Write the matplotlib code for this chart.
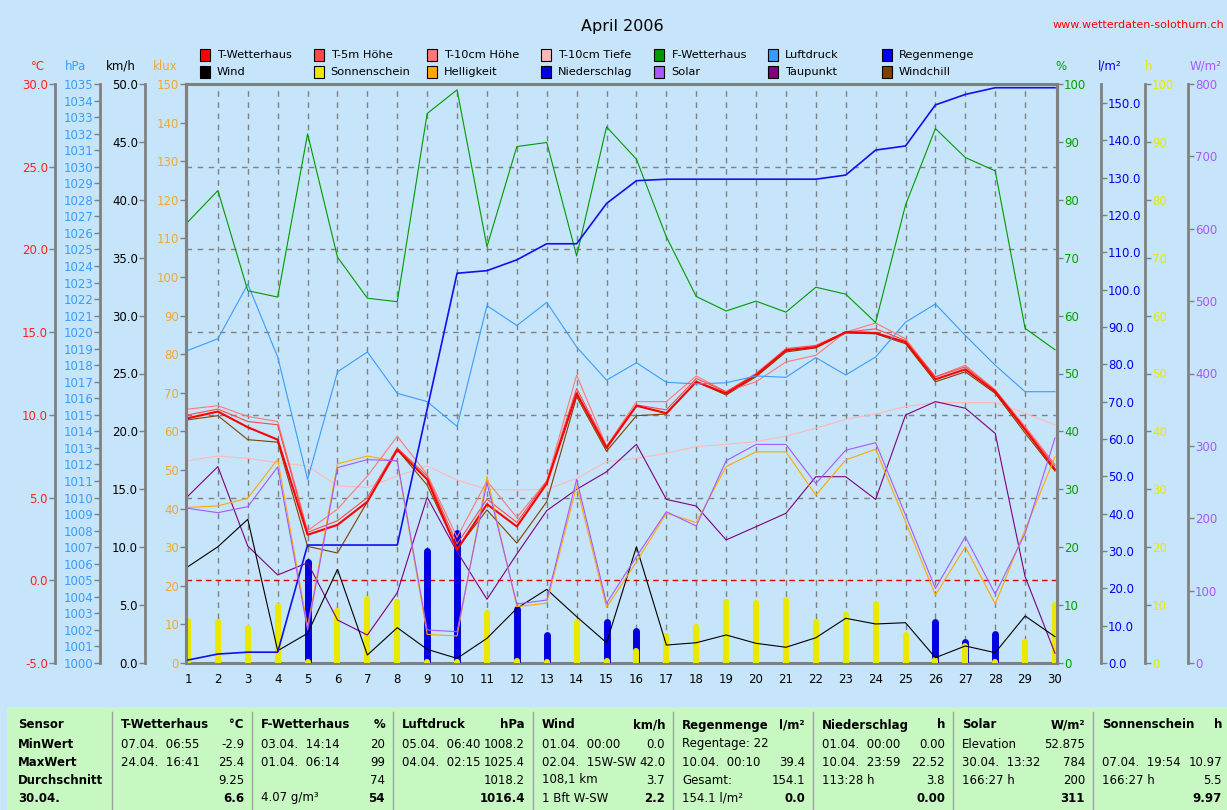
import matplotlib
matplotlib.use("Agg")
import matplotlib.pyplot as plt
from matplotlib.patches import Rectangle
from matplotlib.lines import Line2D
from matplotlib.ticker import MultipleLocator, FormatStrFormatter

plt.rcParams['font.family'] = ['DejaVu Sans']

# ---------------- data ----------------
days = list(range(1, 31))

t_wetterhaus = [9.8, 10.2, 9.25, 8.5, 2.75, 3.35, 4.75, 7.9, 6.1, 1.85,
                4.6, 3.25, 5.85, 11.3, 8.0, 10.55, 10.1, 12.0, 11.3, 12.4,
                13.9, 14.1, 15.0, 14.95, 14.4, 12.15, 12.75, 11.4, 9.1, 6.7]
t_5m = [10.0, 10.35, 9.6, 9.4, 2.9, 3.6, 5.0, 8.0, 6.3, 2.2,
        4.9, 3.5, 6.0, 11.6, 8.1, 10.6, 10.3, 12.2, 11.4, 12.5,
        14.0, 14.2, 15.0, 15.2, 14.5, 12.3, 12.9, 11.5, 9.2, 6.9]
t_10cm_hoehe = [10.35, 10.55, 9.9, 9.6, 3.0, 4.3, 6.3, 8.7, 6.4, 2.6,
                6.0, 3.8, 6.0, 12.4, 8.1, 10.8, 10.8, 12.35, 11.4, 12.0,
                13.2, 13.6, 15.0, 15.55, 14.6, 12.3, 13.0, 11.5, 9.3, 7.0]
t_10cm_tiefe = [7.23, 7.51, 7.37, 7.11, 6.91, 5.70, 5.62, 6.30, 6.91, 6.06,
                5.50, 5.46, 5.50, 6.16, 7.17, 7.37, 7.68, 8.08, 8.22, 8.38,
                8.72, 9.19, 9.73, 10.05, 10.50, 10.74, 10.74, 10.74, 10.09, 9.39]
windchill = [9.7, 9.95, 8.5, 8.35, 2.05, 1.65, 4.75, 7.9, 5.75, 1.9,
             4.25, 2.25, 4.75, 11.1, 7.8, 9.95, 10.05, 12.0, 11.2, 12.3,
             13.8, 14.05, 14.95, 14.9, 14.3, 12.0, 12.6, 11.3, 8.9, 6.6]
taupunkt = [5.09, 6.87, 2.07, 0.32, 1.06, -2.4, -3.31, -0.75, 5.02, 1.73,
            -1.15, 1.59, 4.21, 5.50, 6.56, 8.22, 4.89, 4.49, 2.44, 3.24,
            4.05, 6.26, 6.26, 4.89, 9.99, 10.8, 10.40, 8.88, 0.22, -4.41]
f_wetterhaus = [76.2, 81.6, 64.3, 63.2, 91.4, 70.1, 63.0, 62.4, 94.9, 99.0,
                71.9, 89.2, 89.9, 70.3, 92.6, 87.0, 73.6, 63.3, 60.8, 62.5,
                60.6, 64.9, 63.7, 58.8, 79.1, 92.3, 87.3, 85.0, 57.8, 54.1]
luftdruck = [1018.9, 1019.6, 1022.9, 1018.5, 1011.1, 1017.6, 1018.8, 1016.3, 1015.8, 1014.3,
             1021.6, 1020.4, 1021.8, 1019.1, 1017.1, 1018.15, 1016.97, 1016.87, 1016.94, 1017.35,
             1017.27, 1018.46, 1017.41, 1018.5, 1020.6, 1021.7, 1019.8, 1018.0, 1016.4, 1016.4]
regenmenge = [0.8, 2.4, 2.9, 2.9, 31.6, 31.6, 31.6, 31.6, 68.0, 104.4,
              105.1, 108.0, 112.3, 112.3, 123.1, 129.2, 129.6, 129.6, 129.6, 129.6,
              129.6, 129.6, 130.7, 137.4, 138.5, 149.5, 152.3, 154.1, 154.1, 154.1]
wind = [8.32, 10.04, 12.41, 1.06, 2.56, 8.09, 0.69, 3.05, 1.18, 0.40,
        2.13, 4.72, 6.36, 4.0, 1.75, 10.04, 1.55, 1.75, 2.42, 1.70,
        1.36, 2.18, 3.86, 3.37, 3.48, 0.46, 1.47, 0.89, 4.06, 2.27]
helligkeit = [40.3, 40.7, 42.7, 52.8, 9.4, 51.6, 53.6, 52.2, 7.4, 7.0,
              48.3, 14.6, 15.5, 45.9, 14.4, 26.2, 38.8, 36.4, 50.9, 54.7,
              54.7, 43.5, 52.6, 55.4, 36.6, 17.6, 30.1, 15.3, 34.5, 53.4]
solar = [213.7, 207.7, 216.0, 271.0, 45.6, 270.0, 281.0, 279.5, 45.6, 43.3,
         249.0, 81.5, 87.0, 253.8, 82.5, 146.9, 209.0, 189.3, 279.5, 302.0,
         302.0, 248.0, 294.0, 304.4, 204.5, 103.0, 174.5, 95.3, 179.0, 311.0]
niederschlag = [0, 0, 0, 0, 17.5, 0, 0, 0, 19.4, 22.5,
                0, 9.3, 4.8, 0, 7.0, 5.6, 0, 0, 0, 0,
                0, 0, 0, 0, 0, 7.0, 3.7, 5.0, 0, 0]
sonnenschein = [7.3, 7.0, 6.1, 9.9, 0.2, 9.0, 10.97, 10.5, 0.2, 0.2,
                8.6, 0.3, 0.1, 7.0, 0.3, 2.1, 4.7, 6.3, 10.6, 10.4,
                10.9, 7.0, 8.3, 10.2, 4.8, 0.5, 2.9, 0.1, 3.7, 9.97]

legend_row1 = [("T-Wetterhaus", '#FF0000'), ("T-5m Höhe", '#FF4848'),
               ("T-10cm Höhe", '#FF7878'), ("T-10cm Tiefe", '#FFB8B8'),
               ("F-Wetterhaus", '#009A00'), ("Luftdruck", '#3C9BFF'),
               ("Regenmenge", '#0000F0')]
legend_row2 = [("Wind", '#000000'), ("Sonnenschein", '#E8E800'),
               ("Helligkeit", '#FFA800'), ("Niederschlag", '#0000E0'),
               ("Solar", '#A858FF'), ("Taupunkt", '#800080'),
               ("Windchill", '#804000')]

table_headers = [("Sensor", ""), ("T-Wetterhaus", "°C"), ("F-Wetterhaus", "%"),
                 ("Luftdruck", "hPa"), ("Wind", "km/h"), ("Regenmenge", "l/m²"),
                 ("Niederschlag", "h"), ("Solar", "W/m²"), ("Sonnenschein", "h")]
row_names = ["MinWert", "MaxWert", "Durchschnitt", "30.04."]
table_cells = [
    [("07.04.  06:55", "-2.9"), ("24.04.  16:41", "25.4"), ("", "9.25"), ("", "6.6")],
    [("03.04.  14:14", "20"), ("01.04.  06:14", "99"), ("", "74"), ("4.07 g/m³", "54")],
    [("05.04.  06:40", "1008.2"), ("04.04.  02:15", "1025.4"), ("", "1018.2"), ("", "1016.4")],
    [("01.04.  00:00", "0.0"), ("02.04.  15W-SW", "42.0"), ("108,1 km", "3.7"), ("1 Bft W-SW", "2.2")],
    [("Regentage: 22", ""), ("10.04.  00:10", "39.4"), ("Gesamt:", "154.1"), ("154.1 l/m²", "0.0")],
    [("01.04.  00:00", "0.00"), ("10.04.  23:59", "22.52"), ("113:28 h", "3.8"), ("", "0.00")],
    [("Elevation", "52.875"), ("30.04.  13:32", "784"), ("166:27 h", "200"), ("", "311")],
    [("", ""), ("07.04.  19:54", "10.97"), ("166:27 h", "5.5"), ("", "9.97")],
]

# ---------------- figure ----------------
W, H = 1227, 810
fig = plt.figure(figsize=(W / 100, H / 100), dpi=100)
fig.patch.set_facecolor('#C6E5FA')

def fx(px):
    return px / W

def fy(py):
    return 1 - py / H

GRAY = '#808080'
L, R, TOP, BOT = 186, 1057, 84, 663
ax = fig.add_axes([fx(L), fy(BOT), (R - L) / W, (BOT - TOP) / H])
ax.set_facecolor('none')
ax.set_zorder(-2)
ax.set_xlim(1 - 2 / 29.9, 30 + 2 / 29.9)
ax.set_ylim(-5, 30)
for s in ax.spines.values():
    s.set_color(GRAY)
    s.set_linewidth(2.2)
ax.set_xticks(days)
ax.set_xticklabels([str(d) for d in days])
ax.tick_params(axis='x', length=0, pad=7, labelsize=8.5, labelcolor='black')
ax.set_yticks([])
for d in days[1:-1]:
    ax.axvline(d, color=GRAY, lw=1, linestyle=(0, (4, 4)))
for v in [5, 10, 15, 20, 25]:
    ax.axhline(v, color=GRAY, lw=1, linestyle=(0, (4, 4)))
ax.axhline(0, color='#E00000', lw=1, linestyle=(0, (4, 3)))


def make_axis(side, offset_px, lo, hi, major, fmt, color, z=0):
    a = ax.twinx()
    a.set_ylim(lo, hi)
    a.set_xlim(ax.get_xlim())
    a.set_facecolor('none')
    a.patch.set_visible(False)
    a.set_zorder(z)
    for s in a.spines.values():
        s.set_visible(False)
    sp = a.spines[side]
    sp.set_visible(True)
    sp.set_position(('outward', offset_px * 0.72))
    sp.set_color(GRAY)
    sp.set_linewidth(2.0 if offset_px else 2.2)
    a.yaxis.set_ticks_position(side)
    a.yaxis.set_major_locator(MultipleLocator(major))
    a.yaxis.set_major_formatter(FormatStrFormatter(fmt))
    a.tick_params(axis='y', colors=GRAY, labelcolor=color, length=4, width=1,
                  labelsize=8.5, pad=1)
    return a

ax_h = make_axis('right', 88, 0, 100, 10, '%d', '#E8E800', z=-1)
ax_c = make_axis('left', 131, -5, 30, 5, '%.1f', '#FF2020')
ax_p = make_axis('left', 86, 1000, 1035, 1, '%d', '#3C9BFF')
ax_w = make_axis('left', 41, 0, 50, 5, '%.1f', '#000000')
ax_k = make_axis('left', 0, 0, 150, 10, '%d', '#F0A830')
ax_f = make_axis('right', 0, 0, 100, 10, '%d', '#00A000')
ax_r = make_axis('right', 44, 0, 155.1, 10, '%.1f', '#0000F0')
ax_s = make_axis('right', 131, 0, 800, 100, '%d', '#A858FF')
ax_s.set_ylim(0, 800)

# bars (h axis)
ax_h.vlines(days, 0, niederschlag, colors='#0000E0', linewidth=5.0, capstyle='round')
ax_h.vlines(days, 0, sonnenschein, colors='#E8E800', linewidth=4.4, capstyle='round')

lw = 0.8
ax_f.plot(days, f_wetterhaus, color='#009A00', lw=lw)
ax_p.plot(days, luftdruck, color='#3C9BFF', lw=lw)
ax_r.plot(days, regenmenge, color='#1010F0', lw=1.2)
ax_w.plot(days, wind, color='#000000', lw=lw)
ax_k.plot(days, helligkeit, color='#FFA800', lw=lw)
ax_s.plot(days, solar, color='#A858FF', lw=lw)
ax_c.plot(days, t_10cm_tiefe, color='#FFB8B8', lw=lw)
ax_c.plot(days, taupunkt, color='#800080', lw=lw)
ax_c.plot(days, windchill, color='#804000', lw=lw)
ax_c.plot(days, t_10cm_hoehe, color='#FF7878', lw=lw)
ax_c.plot(days, t_5m, color='#FF4848', lw=lw)
ax_c.plot(days, t_wetterhaus, color='#FF0000', lw=1.5)

# ---------------- texts ----------------
fig.text(fx(622), fy(27), "April 2006", ha='center', va='center', fontsize=11.5)
fig.text(fx(1224), fy(25), "www.wetterdaten-solothurn.ch", ha='right', va='center',
         fontsize=8, color='#FF0000')

units = [("°C", 38, '#FF2020'), ("hPa", 76, '#3C9BFF'), ("km/h", 121, '#000000'),
         ("klux", 165, '#F0A830'), ("%", 1061, '#00A000'), ("l/m²", 1110, '#0000F0'),
         ("h", 1149, '#E8E800'), ("W/m²", 1206, '#A858FF')]
for txt, xp, col in units:
    fig.text(fx(xp), fy(66), txt, ha='center', va='center', fontsize=8.5, color=col)

# legend
for row, yc in ((legend_row1, 55), (legend_row2, 72)):
    for i, (name, col) in enumerate(row):
        x0 = 200 + i * 113.6
        fig.patches.append(Rectangle((fx(x0), fy(yc + 5.5)), 10 / W, 11 / H,
                                     transform=fig.transFigure, facecolor=col,
                                     edgecolor='black', lw=0.8))
        fig.text(fx(x0 + 17), fy(yc), name, ha='left', va='center', fontsize=8.2)

# ---------------- table ----------------
fig.patches.append(Rectangle((fx(7), 0), (W - 7) / W, (810 - 707) / H,
                             transform=fig.transFigure, facecolor='#C8F8C2',
                             edgecolor='none'))
seps = [112, 252, 393, 533, 673, 813, 953, 1093]
for sx in seps:
    fig.lines.append(Line2D([fx(sx), fx(sx)], [fy(712), fy(810)],
                            transform=fig.transFigure, color='#A0A0A0', lw=1))
rows_y = [725, 744, 762, 780, 798]
col_l = [18] + [s + 9 for s in seps]
col_r = [s - 8 for s in seps] + [1222]

for ci, (hname, hunit) in enumerate(table_headers):
    fig.text(fx(col_l[ci]), fy(rows_y[0]), hname, ha='left', va='center',
             fontsize=8.5, fontweight='bold')
    if hunit:
        fig.text(fx(col_r[ci]), fy(rows_y[0]), hunit, ha='right', va='center',
                 fontsize=8.5, fontweight='bold')
for ri, rn in enumerate(row_names):
    fig.text(fx(col_l[0]), fy(rows_y[ri + 1]), rn, ha='left', va='center',
             fontsize=8.5, fontweight='bold')
for ci, cells in enumerate(table_cells):
    for ri, (ltxt, rtxt) in enumerate(cells):
        yy = fy(rows_y[ri + 1])
        if ltxt:
            fig.text(fx(col_l[ci + 1]), yy, ltxt, ha='left', va='center', fontsize=8.5)
        if rtxt:
            fig.text(fx(col_r[ci + 1]), yy, rtxt, ha='right', va='center', fontsize=8.5,
                     fontweight='bold' if ri == 3 else 'normal')

fig.savefig("out.png", dpi=100, facecolor=fig.get_facecolor())
